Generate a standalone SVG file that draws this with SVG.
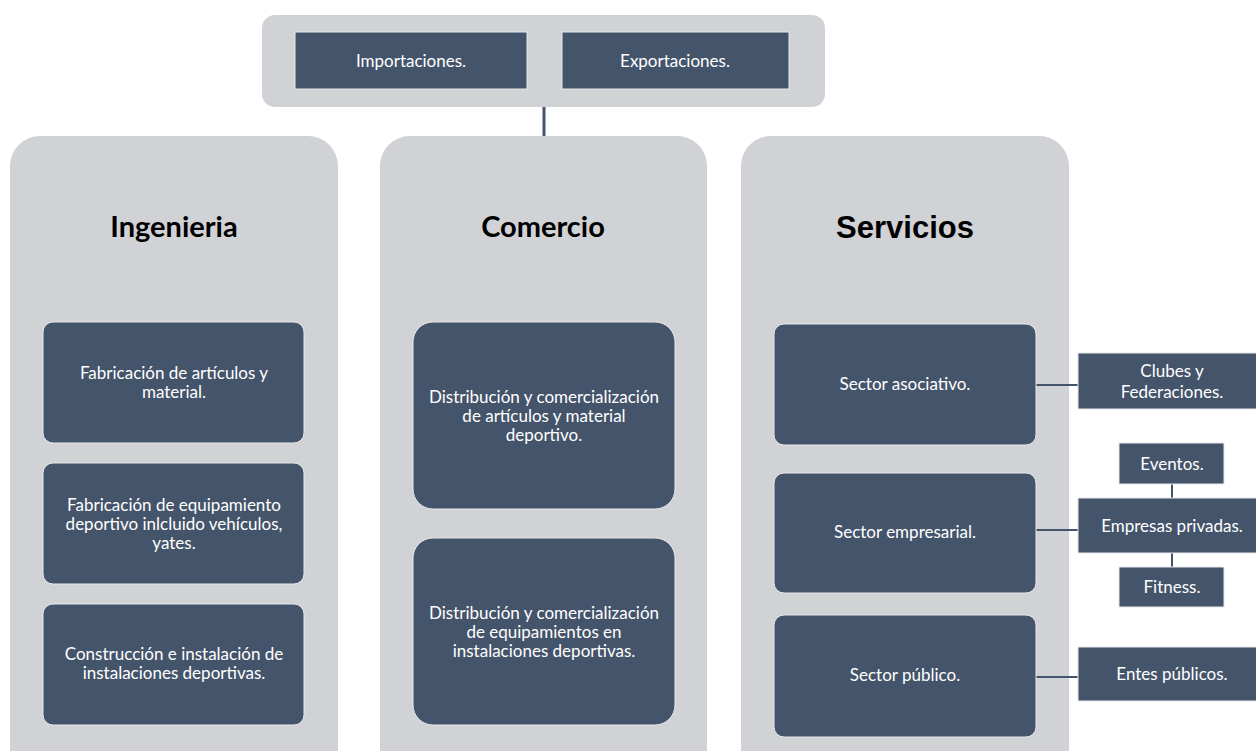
<svg xmlns="http://www.w3.org/2000/svg" width="1256" height="751" viewBox="0 0 1256 751">
<style>
.cont{fill:#d0d2d6}
.box{fill:#44546a;stroke:#e6e8ea;stroke-width:1}
.t{font-family:Lato,"Open Sans",sans-serif;font-size:17px;fill:#ffffff;text-anchor:middle}
.h{font-family:Lato,"Open Sans",sans-serif;font-size:29px;font-weight:bold;fill:#000;text-anchor:middle}
.ha{font-family:"Liberation Sans",Arial,sans-serif;font-size:31px;font-weight:bold;fill:#000;text-anchor:middle}
.c{stroke:#44546a;fill:none}
</style>
<rect width="1256" height="751" fill="#ffffff"/>
<g id="top">
<rect class="cont" x="262" y="15" width="563" height="92" rx="13"/>
</g>
<g id="ingenieria">
<rect class="cont" x="10" y="136" width="328" height="650" rx="30"/>
<text class="h" x="174" y="237">Ingenieria</text>
</g>
<g id="comercio">
<rect class="cont" x="380" y="136" width="327" height="650" rx="30"/>
<text class="h" x="543" y="237">Comercio</text>
</g>
<g id="servicios">
<rect class="cont" x="741" y="136" width="328" height="650" rx="30"/>
<text class="ha" x="905" y="238">Servicios</text>
</g>
<g id="connectors">
<line class="c" x1="544" y1="107" x2="544" y2="136" stroke-width="3"/>
<line class="c" x1="1036" y1="385" x2="1078" y2="385" stroke-width="2"/>
<line class="c" x1="1036" y1="530" x2="1078" y2="530" stroke-width="2"/>
<line class="c" x1="1036" y1="677" x2="1078" y2="677" stroke-width="2"/>
<line class="c" x1="1172" y1="484" x2="1172" y2="498" stroke-width="2"/>
<line class="c" x1="1172" y1="553" x2="1172" y2="567" stroke-width="2"/>
</g>
<g id="importaciones">
<rect class="box" x="295" y="32" width="232" height="57"/>
<text class="t" x="411" y="67">Importaciones.</text>
</g>
<g id="exportaciones">
<rect class="box" x="562" y="32" width="227" height="57"/>
<text class="t" x="675" y="67">Exportaciones.</text>
</g>
<g id="ing1">
<rect class="box" x="43" y="322" width="261" height="121" rx="10"/>
<text class="t" x="174" y="379">Fabricación de artículos y</text>
<text class="t" x="174" y="398">material.</text>
</g>
<g id="ing2">
<rect class="box" x="43" y="463" width="261" height="121" rx="10"/>
<text class="t" x="174" y="511">Fabricación de equipamiento</text>
<text class="t" x="174" y="530">deportivo inlcluido vehículos,</text>
<text class="t" x="174" y="549">yates.</text>
</g>
<g id="ing3">
<rect class="box" x="43" y="604" width="261" height="121" rx="10"/>
<text class="t" x="174" y="660">Construcción e instalación de</text>
<text class="t" x="174" y="679">instalaciones deportivas.</text>
</g>
<g id="com1">
<rect class="box" x="413" y="322" width="262" height="187" rx="20"/>
<text class="t" x="544" y="403">Distribución y comercialización</text>
<text class="t" x="544" y="422">de artículos y material</text>
<text class="t" x="544" y="441">deportivo.</text>
</g>
<g id="com2">
<rect class="box" x="413" y="538" width="262" height="187" rx="20"/>
<text class="t" x="544" y="619">Distribución y comercialización</text>
<text class="t" x="544" y="638">de equipamientos en</text>
<text class="t" x="544" y="657">instalaciones deportivas.</text>
</g>
<g id="ser1">
<rect class="box" x="774" y="324" width="262" height="121" rx="10"/>
<text class="t" x="905" y="390">Sector asociativo.</text>
</g>
<g id="ser2">
<rect class="box" x="774" y="473" width="262" height="120" rx="10"/>
<text class="t" x="905" y="538">Sector empresarial.</text>
</g>
<g id="ser3">
<rect class="box" x="774" y="615" width="262" height="122" rx="10"/>
<text class="t" x="905" y="681">Sector público.</text>
</g>
<g id="clubes">
<rect class="box" x="1078" y="353" width="180" height="56"/>
<text class="t" x="1172" y="377">Clubes y</text>
<text class="t" x="1172" y="398">Federaciones.</text>
</g>
<g id="eventos">
<rect class="box" x="1119" y="443" width="105" height="41"/>
<text class="t" x="1172" y="470">Eventos.</text>
</g>
<g id="empresas">
<rect class="box" x="1078" y="498" width="180" height="55"/>
<text class="t" x="1172" y="532">Empresas privadas.</text>
</g>
<g id="fitness">
<rect class="box" x="1119" y="567" width="105" height="40"/>
<text class="t" x="1172" y="593">Fitness.</text>
</g>
<g id="entes">
<rect class="box" x="1078" y="647" width="180" height="54"/>
<text class="t" x="1172" y="680">Entes públicos.</text>
</g>
</svg>
